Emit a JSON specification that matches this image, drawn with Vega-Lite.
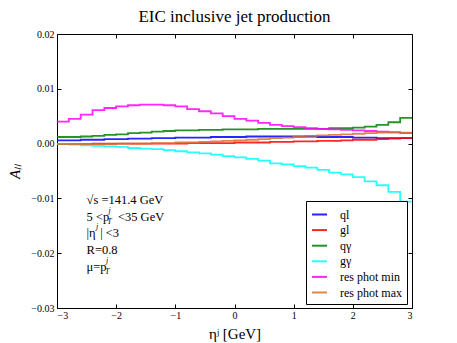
{
  "$schema": "https://vega.github.io/schema/vega-lite/v6.json",
  "width": 355,
  "height": 274,
  "autosize": {"type": "none"},
  "padding": {"left": 57, "top": 34, "right": 45, "bottom": 35},
  "background": "white",
  "config": {
    "font": "Liberation Serif",
    "view": {"stroke": "black", "strokeWidth": 1},
    "axis": {
      "domain": false,
      "grid": false,
      "tickColor": "black",
      "tickSize": -4,
      "labelColor": "black",
      "labelFontSize": 10,
      "labelFont": "Liberation Serif",
      "titleColor": "black",
      "titleFont": "Liberation Serif",
      "titleFontWeight": "normal"
    }
  },
  "title": {"text": "EIC inclusive jet production", "fontSize": 17, "fontWeight": "normal", "color": "black", "font": "Liberation Serif", "offset": 3},
  "datasets": {
    "curves": [
      {"eta": -3.0, "ALL": 0.0006, "series": "ql"}, {"eta": -2.8, "ALL": 0.0006, "series": "ql"}, {"eta": -2.6, "ALL": 0.0007, "series": "ql"}, {"eta": -2.4, "ALL": 0.0007, "series": "ql"}, {"eta": -2.2, "ALL": 0.0008, "series": "ql"}, {"eta": -2.0, "ALL": 0.0008, "series": "ql"}, {"eta": -1.8, "ALL": 0.0009, "series": "ql"}, {"eta": -1.6, "ALL": 0.0009, "series": "ql"}, {"eta": -1.4, "ALL": 0.0010, "series": "ql"}, {"eta": -1.2, "ALL": 0.0010, "series": "ql"}, {"eta": -1.0, "ALL": 0.0011, "series": "ql"}, {"eta": -0.8, "ALL": 0.0011, "series": "ql"}, {"eta": -0.6, "ALL": 0.0011, "series": "ql"}, {"eta": -0.4, "ALL": 0.0012, "series": "ql"}, {"eta": -0.2, "ALL": 0.0012, "series": "ql"}, {"eta": 0.0, "ALL": 0.0012, "series": "ql"}, {"eta": 0.2, "ALL": 0.0013, "series": "ql"}, {"eta": 0.4, "ALL": 0.0013, "series": "ql"}, {"eta": 0.6, "ALL": 0.0013, "series": "ql"}, {"eta": 0.8, "ALL": 0.0013, "series": "ql"}, {"eta": 1.0, "ALL": 0.0013, "series": "ql"}, {"eta": 1.2, "ALL": 0.0013, "series": "ql"}, {"eta": 1.4, "ALL": 0.0012, "series": "ql"}, {"eta": 1.6, "ALL": 0.0012, "series": "ql"}, {"eta": 1.8, "ALL": 0.0012, "series": "ql"}, {"eta": 2.0, "ALL": 0.0011, "series": "ql"}, {"eta": 2.2, "ALL": 0.0011, "series": "ql"}, {"eta": 2.4, "ALL": 0.0010, "series": "ql"}, {"eta": 2.6, "ALL": 0.0010, "series": "ql"}, {"eta": 2.8, "ALL": 0.0010, "series": "ql"}, {"eta": 3.0, "ALL": 0.0010, "series": "ql"},
      {"eta": -3.0, "ALL": -0.0001, "series": "gl"}, {"eta": -2.8, "ALL": -0.0001, "series": "gl"}, {"eta": -2.6, "ALL": -0.0001, "series": "gl"}, {"eta": -2.4, "ALL": 0.0, "series": "gl"}, {"eta": -2.2, "ALL": 0.0, "series": "gl"}, {"eta": -2.0, "ALL": 0.0, "series": "gl"}, {"eta": -1.8, "ALL": 0.0, "series": "gl"}, {"eta": -1.6, "ALL": 0.0, "series": "gl"}, {"eta": -1.4, "ALL": 0.0, "series": "gl"}, {"eta": -1.2, "ALL": 0.0, "series": "gl"}, {"eta": -1.0, "ALL": 0.0, "series": "gl"}, {"eta": -0.8, "ALL": 0.0001, "series": "gl"}, {"eta": -0.6, "ALL": 0.0001, "series": "gl"}, {"eta": -0.4, "ALL": 0.0001, "series": "gl"}, {"eta": -0.2, "ALL": 0.0001, "series": "gl"}, {"eta": 0.0, "ALL": 0.0002, "series": "gl"}, {"eta": 0.2, "ALL": 0.0002, "series": "gl"}, {"eta": 0.4, "ALL": 0.0002, "series": "gl"}, {"eta": 0.6, "ALL": 0.0003, "series": "gl"}, {"eta": 0.8, "ALL": 0.0003, "series": "gl"}, {"eta": 1.0, "ALL": 0.0004, "series": "gl"}, {"eta": 1.2, "ALL": 0.0004, "series": "gl"}, {"eta": 1.4, "ALL": 0.0005, "series": "gl"}, {"eta": 1.6, "ALL": 0.0005, "series": "gl"}, {"eta": 1.8, "ALL": 0.0006, "series": "gl"}, {"eta": 2.0, "ALL": 0.0007, "series": "gl"}, {"eta": 2.2, "ALL": 0.0007, "series": "gl"}, {"eta": 2.4, "ALL": 0.0008, "series": "gl"}, {"eta": 2.6, "ALL": 0.0009, "series": "gl"}, {"eta": 2.8, "ALL": 0.0010, "series": "gl"}, {"eta": 3.0, "ALL": 0.0010, "series": "gl"},
      {"eta": -3.0, "ALL": 0.0012, "series": "qγ"}, {"eta": -2.8, "ALL": 0.0012, "series": "qγ"}, {"eta": -2.6, "ALL": 0.0013, "series": "qγ"}, {"eta": -2.4, "ALL": 0.0014, "series": "qγ"}, {"eta": -2.2, "ALL": 0.0016, "series": "qγ"}, {"eta": -2.0, "ALL": 0.0017, "series": "qγ"}, {"eta": -1.8, "ALL": 0.0019, "series": "qγ"}, {"eta": -1.6, "ALL": 0.0020, "series": "qγ"}, {"eta": -1.4, "ALL": 0.0022, "series": "qγ"}, {"eta": -1.2, "ALL": 0.0023, "series": "qγ"}, {"eta": -1.0, "ALL": 0.0024, "series": "qγ"}, {"eta": -0.8, "ALL": 0.0024, "series": "qγ"}, {"eta": -0.6, "ALL": 0.0025, "series": "qγ"}, {"eta": -0.4, "ALL": 0.0025, "series": "qγ"}, {"eta": -0.2, "ALL": 0.0026, "series": "qγ"}, {"eta": 0.0, "ALL": 0.0026, "series": "qγ"}, {"eta": 0.2, "ALL": 0.0026, "series": "qγ"}, {"eta": 0.4, "ALL": 0.0027, "series": "qγ"}, {"eta": 0.6, "ALL": 0.0027, "series": "qγ"}, {"eta": 0.8, "ALL": 0.0027, "series": "qγ"}, {"eta": 1.0, "ALL": 0.0027, "series": "qγ"}, {"eta": 1.2, "ALL": 0.0027, "series": "qγ"}, {"eta": 1.4, "ALL": 0.0027, "series": "qγ"}, {"eta": 1.6, "ALL": 0.0028, "series": "qγ"}, {"eta": 1.8, "ALL": 0.0028, "series": "qγ"}, {"eta": 2.0, "ALL": 0.0029, "series": "qγ"}, {"eta": 2.2, "ALL": 0.0031, "series": "qγ"}, {"eta": 2.4, "ALL": 0.0034, "series": "qγ"}, {"eta": 2.6, "ALL": 0.0039, "series": "qγ"}, {"eta": 2.8, "ALL": 0.0047, "series": "qγ"}, {"eta": 3.0, "ALL": 0.0047, "series": "qγ"},
      {"eta": -3.0, "ALL": -0.0001, "series": "gγ"}, {"eta": -2.8, "ALL": -0.0002, "series": "gγ"}, {"eta": -2.6, "ALL": -0.0003, "series": "gγ"}, {"eta": -2.4, "ALL": -0.0004, "series": "gγ"}, {"eta": -2.2, "ALL": -0.0005, "series": "gγ"}, {"eta": -2.0, "ALL": -0.0006, "series": "gγ"}, {"eta": -1.8, "ALL": -0.0008, "series": "gγ"}, {"eta": -1.6, "ALL": -0.0009, "series": "gγ"}, {"eta": -1.4, "ALL": -0.0010, "series": "gγ"}, {"eta": -1.2, "ALL": -0.0012, "series": "gγ"}, {"eta": -1.0, "ALL": -0.0014, "series": "gγ"}, {"eta": -0.8, "ALL": -0.0016, "series": "gγ"}, {"eta": -0.6, "ALL": -0.0018, "series": "gγ"}, {"eta": -0.4, "ALL": -0.0020, "series": "gγ"}, {"eta": -0.2, "ALL": -0.0023, "series": "gγ"}, {"eta": 0.0, "ALL": -0.0025, "series": "gγ"}, {"eta": 0.2, "ALL": -0.0028, "series": "gγ"}, {"eta": 0.4, "ALL": -0.0031, "series": "gγ"}, {"eta": 0.6, "ALL": -0.0036, "series": "gγ"}, {"eta": 0.8, "ALL": -0.0038, "series": "gγ"}, {"eta": 1.0, "ALL": -0.0041, "series": "gγ"}, {"eta": 1.2, "ALL": -0.0044, "series": "gγ"}, {"eta": 1.4, "ALL": -0.0048, "series": "gγ"}, {"eta": 1.6, "ALL": -0.0053, "series": "gγ"}, {"eta": 1.8, "ALL": -0.0056, "series": "gγ"}, {"eta": 2.0, "ALL": -0.0061, "series": "gγ"}, {"eta": 2.2, "ALL": -0.0069, "series": "gγ"}, {"eta": 2.4, "ALL": -0.0076, "series": "gγ"}, {"eta": 2.6, "ALL": -0.0088, "series": "gγ"}, {"eta": 2.8, "ALL": -0.0106, "series": "gγ"}, {"eta": 3.0, "ALL": -0.0106, "series": "gγ"},
      {"eta": -3.0, "ALL": 0.0040, "series": "res phot min"}, {"eta": -2.8, "ALL": 0.0045, "series": "res phot min"}, {"eta": -2.6, "ALL": 0.0053, "series": "res phot min"}, {"eta": -2.4, "ALL": 0.0061, "series": "res phot min"}, {"eta": -2.2, "ALL": 0.0065, "series": "res phot min"}, {"eta": -2.0, "ALL": 0.0068, "series": "res phot min"}, {"eta": -1.8, "ALL": 0.0070, "series": "res phot min"}, {"eta": -1.6, "ALL": 0.0071, "series": "res phot min"}, {"eta": -1.4, "ALL": 0.0071, "series": "res phot min"}, {"eta": -1.2, "ALL": 0.0070, "series": "res phot min"}, {"eta": -1.0, "ALL": 0.0068, "series": "res phot min"}, {"eta": -0.8, "ALL": 0.0063, "series": "res phot min"}, {"eta": -0.6, "ALL": 0.0059, "series": "res phot min"}, {"eta": -0.4, "ALL": 0.0055, "series": "res phot min"}, {"eta": -0.2, "ALL": 0.0050, "series": "res phot min"}, {"eta": 0.0, "ALL": 0.0045, "series": "res phot min"}, {"eta": 0.2, "ALL": 0.0042, "series": "res phot min"}, {"eta": 0.4, "ALL": 0.0038, "series": "res phot min"}, {"eta": 0.6, "ALL": 0.0034, "series": "res phot min"}, {"eta": 0.8, "ALL": 0.0032, "series": "res phot min"}, {"eta": 1.0, "ALL": 0.0030, "series": "res phot min"}, {"eta": 1.2, "ALL": 0.0028, "series": "res phot min"}, {"eta": 1.4, "ALL": 0.0027, "series": "res phot min"}, {"eta": 1.6, "ALL": 0.0026, "series": "res phot min"}, {"eta": 1.8, "ALL": 0.0025, "series": "res phot min"}, {"eta": 2.0, "ALL": 0.0024, "series": "res phot min"}, {"eta": 2.2, "ALL": 0.0023, "series": "res phot min"}, {"eta": 2.4, "ALL": 0.0022, "series": "res phot min"}, {"eta": 2.6, "ALL": 0.0021, "series": "res phot min"}, {"eta": 2.8, "ALL": 0.0019, "series": "res phot min"}, {"eta": 3.0, "ALL": 0.0019, "series": "res phot min"},
      {"eta": -3.0, "ALL": -0.0001, "series": "res phot max"}, {"eta": -2.8, "ALL": -0.0001, "series": "res phot max"}, {"eta": -2.6, "ALL": -0.0001, "series": "res phot max"}, {"eta": -2.4, "ALL": -0.0001, "series": "res phot max"}, {"eta": -2.2, "ALL": -0.0001, "series": "res phot max"}, {"eta": -2.0, "ALL": 0.0, "series": "res phot max"}, {"eta": -1.8, "ALL": 0.0, "series": "res phot max"}, {"eta": -1.6, "ALL": 0.0, "series": "res phot max"}, {"eta": -1.4, "ALL": 0.0001, "series": "res phot max"}, {"eta": -1.2, "ALL": 0.0001, "series": "res phot max"}, {"eta": -1.0, "ALL": 0.0002, "series": "res phot max"}, {"eta": -0.8, "ALL": 0.0002, "series": "res phot max"}, {"eta": -0.6, "ALL": 0.0003, "series": "res phot max"}, {"eta": -0.4, "ALL": 0.0004, "series": "res phot max"}, {"eta": -0.2, "ALL": 0.0005, "series": "res phot max"}, {"eta": 0.0, "ALL": 0.0006, "series": "res phot max"}, {"eta": 0.2, "ALL": 0.0007, "series": "res phot max"}, {"eta": 0.4, "ALL": 0.0008, "series": "res phot max"}, {"eta": 0.6, "ALL": 0.0010, "series": "res phot max"}, {"eta": 0.8, "ALL": 0.0011, "series": "res phot max"}, {"eta": 1.0, "ALL": 0.0012, "series": "res phot max"}, {"eta": 1.2, "ALL": 0.0014, "series": "res phot max"}, {"eta": 1.4, "ALL": 0.0015, "series": "res phot max"}, {"eta": 1.6, "ALL": 0.0016, "series": "res phot max"}, {"eta": 1.8, "ALL": 0.0017, "series": "res phot max"}, {"eta": 2.0, "ALL": 0.0018, "series": "res phot max"}, {"eta": 2.2, "ALL": 0.0019, "series": "res phot max"}, {"eta": 2.4, "ALL": 0.0020, "series": "res phot max"}, {"eta": 2.6, "ALL": 0.0020, "series": "res phot max"}, {"eta": 2.8, "ALL": 0.0020, "series": "res phot max"}, {"eta": 3.0, "ALL": 0.0020, "series": "res phot max"}
    ],
    "notes": [
      {"eta": -2.5, "ALL": -0.0103, "text": "√s =141.4 GeV", "role": "main"},
      {"eta": -2.5, "ALL": -0.01336, "text": "5 <p", "role": "main"},
      {"eta": -1.97, "ALL": -0.01336, "text": "<35 GeV", "role": "main"},
      {"eta": -2.5, "ALL": -0.01633, "text": "|η", "role": "main"},
      {"eta": -2.27, "ALL": -0.01633, "text": "| <3", "role": "main"},
      {"eta": -2.5, "ALL": -0.01943, "text": "R=0.8", "role": "main"},
      {"eta": -2.5, "ALL": -0.02254, "text": "μ=p", "role": "main"},
      {"eta": -2.13, "ALL": -0.01336, "text": "j", "role": "sup"},
      {"eta": -2.34, "ALL": -0.01633, "text": "j", "role": "sup"},
      {"eta": -2.17, "ALL": -0.02254, "text": "j", "role": "sup"},
      {"eta": -2.15, "ALL": -0.01336, "text": "T", "role": "sub"},
      {"eta": -2.19, "ALL": -0.02254, "text": "T", "role": "sub"}
    ]
  },
  "layer": [
    {
      "data": {"name": "curves"},
      "mark": {"type": "line", "interpolate": "step-after", "strokeWidth": 1.8, "opacity": 0.85},
      "encoding": {
        "x": {"field": "eta", "type": "quantitative", "scale": {"domain": [-3, 3], "nice": false},
              "axis": {"values": [-3, -2, -1, 0, 1, 2, 3], "format": "d", "title": "ηʲ  [GeV]", "titleFontSize": 15, "labelPadding": 6, "titlePadding": 6}},
        "y": {"field": "ALL", "type": "quantitative", "scale": {"domain": [-0.03, 0.02], "nice": false, "zero": false},
              "axis": {"values": [-0.03, -0.02, -0.01, 0, 0.01, 0.02], "format": ".2f", "title": "Aₗₗ", "titleFontSize": 15, "titleFontStyle": "italic", "labelPadding": 7, "titlePadding": 8}},
        "color": {"field": "series", "type": "nominal",
                  "scale": {"domain": ["ql", "gl", "qγ", "gγ", "res phot min", "res phot max"], "range": ["#0000ff", "#ff0000", "#008000", "#00ffff", "#ff00ff", "#d9702a"]},
                  "legend": {"orient": "none", "legendX": 249, "legendY": 167, "title": null, "strokeColor": "black", "fillColor": "white", "padding": 5, "symbolType": "stroke", "symbolSize": 225, "symbolStrokeWidth": 2, "labelFontSize": 12, "labelColor": "black", "labelFont": "Liberation Serif", "rowPadding": 0.6, "labelOffset": 12}}
      }
    },
    {
      "data": {"name": "curves"},
      "mark": {"type": "line", "opacity": 0},
      "encoding": {
        "x": {"field": "eta", "type": "quantitative", "axis": {"orient": "top", "values": [-3, -2, -1, 0, 1, 2, 3], "labels": false, "title": null}},
        "y": {"field": "ALL", "type": "quantitative", "axis": {"orient": "right", "values": [-0.03, -0.02, -0.01, 0, 0.01, 0.02], "labels": false, "title": null}}
      }
    },
    {
      "data": {"name": "notes"},
      "transform": [{"filter": "datum.role == 'main'"}],
      "mark": {"type": "text", "align": "left", "baseline": "middle", "fontSize": 12.5, "color": "black", "font": "Liberation Serif"},
      "encoding": {
        "x": {"field": "eta", "type": "quantitative", "axis": null},
        "y": {"field": "ALL", "type": "quantitative", "axis": null},
        "text": {"field": "text"}
      }
    },
    {
      "data": {"name": "notes"},
      "transform": [{"filter": "datum.role == 'sup'"}],
      "mark": {"type": "text", "align": "left", "baseline": "middle", "fontSize": 8, "dy": -6, "color": "black", "font": "Liberation Serif", "fontStyle": "italic"},
      "encoding": {
        "x": {"field": "eta", "type": "quantitative", "axis": null},
        "y": {"field": "ALL", "type": "quantitative", "axis": null},
        "text": {"field": "text"}
      }
    },
    {
      "data": {"name": "notes"},
      "transform": [{"filter": "datum.role == 'sub'"}],
      "mark": {"type": "text", "align": "left", "baseline": "middle", "fontSize": 8, "dy": 5, "color": "black", "font": "Liberation Serif", "fontStyle": "italic"},
      "encoding": {
        "x": {"field": "eta", "type": "quantitative", "axis": null},
        "y": {"field": "ALL", "type": "quantitative", "axis": null},
        "text": {"field": "text"}
      }
    }
  ],
  "resolve": {"axis": {"x": "independent", "y": "independent"}}
}
